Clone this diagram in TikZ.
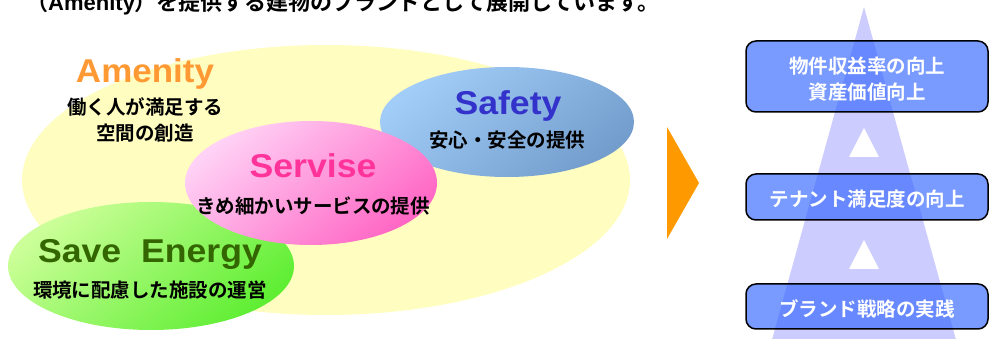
\documentclass[tikz,border=0pt]{standalone}
\usepackage{fontspec}
\setmainfont{Liberation Sans}
\newfontfamily\jp{Noto Sans CJK JP}[BoldFont={Noto Sans CJK JP Bold}]
\usetikzlibrary{shapes.geometric}
\definecolor{ylw}{HTML}{FFFDC0}
\definecolor{blueA}{HTML}{A2CDF8}
\definecolor{blueB}{HTML}{739DCC}
\definecolor{pinkA}{HTML}{FFD2F6}
\definecolor{pinkB}{HTML}{FF66C4}
\definecolor{grnA}{HTML}{CCFF99}
\definecolor{grnB}{HTML}{5FEE33}
\definecolor{amen}{HTML}{FF9933}
\definecolor{safe}{HTML}{3333CC}
\definecolor{serv}{HTML}{FF3399}
\definecolor{save}{HTML}{336600}
\definecolor{arr}{HTML}{FF9900}
\definecolor{lav}{HTML}{CCCCFF}
\definecolor{boxb}{HTML}{3366FF}
\tikzset{
  blob/.style={ellipse, inner sep=0pt, draw=none},
  ttl/.style={inner sep=0pt, anchor=base, font=\bfseries\fontsize{33}{33}\selectfont},
  jtx/.style={inner sep=0pt, font=\jp\bfseries\fontsize{19.5}{26}\selectfont, align=center},
  goalbox/.style={draw=black, line width=1.5pt, rounded corners=10pt, fill=boxb, fill opacity=0.66, minimum width=242pt, inner sep=0pt},
  wtx/.style={inner sep=0pt, text=white, font=\jp\bfseries\fontsize{19.5}{26.5}\selectfont, align=center}
}
\begin{document}
\begin{tikzpicture}[x=1pt,y=-1pt]
\useasboundingbox (0,0) rectangle (989,339);
\clip (0,0) rectangle (989,339);
% heading (cut at top, as in the reference)
\node[inner sep=0pt, anchor=base west, font=\bfseries\fontsize{22}{22}\selectfont] (head) at (26,11)
  {{\jp （}Amenity{\jp ）を提供する建物のブランドとして展開しています。}};
% ellipses
\node[blob, fill=ylw, minimum width=608pt, minimum height=270pt] (yel) at (326,180) {};
\node[blob, top color=blueA, bottom color=blueB, shading angle=40, minimum width=254pt, minimum height=110pt] (blu) at (507,122) {};
\node[blob, top color=grnA, bottom color=grnB, shading angle=40, minimum width=286pt, minimum height=128pt] (grn) at (151,266) {};
\node[blob, top color=pinkA, bottom color=pinkB, shading angle=40, minimum width=252pt, minimum height=124pt] (pnk) at (311,183) {};
% titles
\node[ttl, text=amen] (tA) at (145,83) {\scalebox{1.06}[1]{Amenity}};
\node[jtx] (jA) at (145,119.5) {働く人が満足する\\空間の創造};
\node[ttl, text=safe] (tS) at (508,115) {\scalebox{1.08}[1]{Safety}};
\node[jtx] (jS) at (507,140) {安心・安全の提供};
\node[ttl, text=serv] (tV) at (313,178) {\scalebox{1.08}[1]{Servise}};
\node[jtx] (jV) at (313,206) {きめ細かいサービスの提供};
\node[ttl, text=save] (tE) at (150,263) {\scalebox{1.08}[1]{Save\ \ Energy}};
\node[jtx] (jE) at (150,290) {環境に配慮した施設の運営};
% orange arrow
\fill[arr] (667,127) -- (699,183) -- (667,239) -- cycle;
% big lavender triangle
\fill[lav] (864,7) -- (958,347) -- (770,347) -- cycle;
% goal boxes
\node[goalbox, minimum height=71pt] (b1) at (867,76.5) {};
\node[goalbox, minimum height=46pt] (b2) at (867,197) {};
\node[goalbox, minimum height=45pt] (b3) at (867,306.5) {};
\node[wtx] (w1) at (867,79) {物件収益率の向上\\資産価値向上};
\node[wtx] (w2) at (867,199) {テナント満足度の向上};
\node[wtx] (w3) at (867,309) {ブランド戦略の実践};
% white up-triangles
\fill[white] (864,128) -- (879,157) -- (849,157) -- cycle;
\fill[white] (864,240) -- (879,269) -- (849,269) -- cycle;
\end{tikzpicture}
\end{document}
